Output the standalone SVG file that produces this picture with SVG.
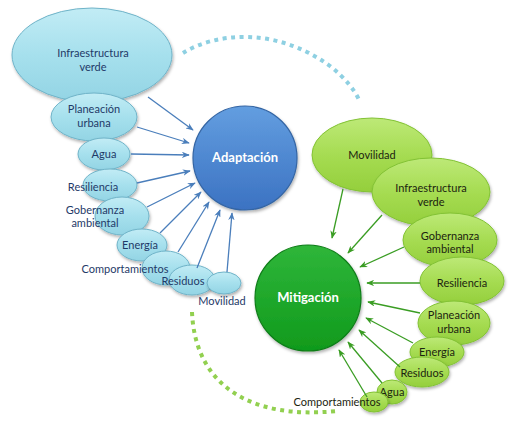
<svg xmlns="http://www.w3.org/2000/svg" width="522" height="429" viewBox="0 0 522 429">
<defs>
<linearGradient id="gb" x1="0" y1="0" x2="0" y2="1"><stop offset="0" stop-color="#c2ecf5"/><stop offset="0.5" stop-color="#a6e0ed"/><stop offset="1" stop-color="#93d4e4"/></linearGradient>
<linearGradient id="gg" x1="0" y1="0" x2="0" y2="1"><stop offset="0" stop-color="#bde977"/><stop offset="0.5" stop-color="#a6dc52"/><stop offset="1" stop-color="#94cf3c"/></linearGradient>
<linearGradient id="gA" x1="0" y1="0" x2="0" y2="1"><stop offset="0" stop-color="#639ee0"/><stop offset="1" stop-color="#3b72c2"/></linearGradient>
<linearGradient id="gM" x1="0" y1="0" x2="0" y2="1"><stop offset="0" stop-color="#2fb63a"/><stop offset="1" stop-color="#109a1c"/></linearGradient>
<filter id="sh" x="-20%" y="-20%" width="140%" height="150%"><feDropShadow dx="1" dy="2" stdDeviation="1.5" flood-color="#000" flood-opacity="0.3"/></filter>
<marker id="ab" viewBox="0 0 10 8" refX="9" refY="4" markerWidth="8" markerHeight="6.4" orient="auto" markerUnits="userSpaceOnUse"><path d="M0,0 L10,4 L0,8 L3,4 z" fill="#4a7ebb"/></marker>
<marker id="ag" viewBox="0 0 10 8" refX="9" refY="4" markerWidth="8" markerHeight="6.4" orient="auto" markerUnits="userSpaceOnUse"><path d="M0,0 L10,4 L0,8 L3,4 z" fill="#3a9d23"/></marker>
</defs>
<style>
.eb{fill:url(#gb);stroke:#6fb3c8;stroke-width:1;filter:url(#sh)}
.eg{fill:url(#gg);stroke:#82c234;stroke-width:1;filter:url(#sh)}
.tb{font-family:Lato,"Liberation Sans",sans-serif;font-size:11px;fill:#1f3a68;text-anchor:middle}
.tg{font-family:Lato,"Liberation Sans",sans-serif;font-size:11px;fill:#1c2410;text-anchor:middle}
.tc{font-family:Lato,"Liberation Sans",sans-serif;font-size:13px;font-weight:bold;fill:#fff;text-anchor:middle}
.cb{stroke:#4a7ebb;stroke-width:1.3;fill:none;marker-end:url(#ab)}
.cg{stroke:#3a9d23;stroke-width:1.3;fill:none;marker-end:url(#ag)}
.db{fill:none;stroke:#8ed0e2;stroke-width:4;stroke-dasharray:4 4.5}
.dg{fill:none;stroke:#92d050;stroke-width:4;stroke-dasharray:4 4.5}
</style>
<rect width="522" height="429" fill="#fff"/>
<g id="arcs">
<path class="db" d="M183,53 C215,33 275,26 330,66 C345,78 355,90 360,102"/>
<path class="dg" d="M192,312 C195,385 250,420 337,411"/>
</g>
<g id="adapt-infra"><ellipse class="eb" cx="92" cy="55" rx="80" ry="47"/><text class="tb" x="93" y="57">Infraestructura</text><text class="tb" x="93" y="71">verde</text></g>
<g id="adapt-planeacion"><ellipse class="eb" cx="94" cy="117" rx="43" ry="24"/><text class="tb" x="94" y="113">Planeación</text><text class="tb" x="94" y="127">urbana</text></g>
<g id="adapt-agua"><ellipse class="eb" cx="104" cy="154" rx="26" ry="16"/><text class="tb" x="104" y="158">Agua</text></g>
<g id="adapt-resiliencia"><ellipse class="eb" cx="110" cy="185" rx="27" ry="16"/><text class="tb" x="93" y="191">Resiliencia</text></g>
<g id="adapt-gobernanza"><ellipse class="eb" cx="122" cy="216" rx="27" ry="19"/><text class="tb" x="95" y="214">Gobernanza</text><text class="tb" x="95" y="227">ambiental</text></g>
<g id="adapt-energia"><ellipse class="eb" cx="142" cy="245" rx="25" ry="16"/><text class="tb" x="140" y="249">Energía</text></g>
<g id="adapt-comportamientos"><ellipse class="eb" cx="166" cy="268" rx="24" ry="17"/><text class="tb" x="125" y="273">Comportamientos</text></g>
<g id="adapt-residuos"><ellipse class="eb" cx="192" cy="280" rx="23" ry="15"/><text class="tb" x="183" y="285">Residuos</text></g>
<g id="adapt-movilidad"><ellipse class="eb" cx="224" cy="283" rx="17" ry="11"/><text class="tb" x="222" y="305">Movilidad</text></g>
<g id="adaptacion"><circle cx="245" cy="158" r="52" fill="url(#gA)" stroke="#3465a4" stroke-width="1.2" filter="url(#sh)"/><text class="tc" x="245" y="162">Adaptación</text></g>
<g id="mit-movilidad"><ellipse class="eg" cx="372" cy="155" rx="60" ry="37"/><text class="tg" x="372" y="159">Movilidad</text></g>
<g id="mit-infra"><ellipse class="eg" cx="431" cy="192" rx="59" ry="34"/><text class="tg" x="431" y="192">Infraestructura</text><text class="tg" x="431" y="206">verde</text></g>
<g id="mit-gobernanza"><ellipse class="eg" cx="450" cy="240" rx="47" ry="27"/><text class="tg" x="450" y="240">Gobernanza</text><text class="tg" x="450" y="253">ambiental</text></g>
<g id="mit-resiliencia"><ellipse class="eg" cx="462" cy="281" rx="42" ry="24"/><text class="tg" x="462" y="287">Resiliencia</text></g>
<g id="mit-planeacion"><ellipse class="eg" cx="454" cy="323" rx="36" ry="22"/><text class="tg" x="454" y="319">Planeación</text><text class="tg" x="454" y="333">urbana</text></g>
<g id="mit-energia"><ellipse class="eg" cx="437" cy="352" rx="27" ry="15"/><text class="tg" x="437" y="356">Energía</text></g>
<g id="mit-residuos"><ellipse class="eg" cx="422" cy="372" rx="27" ry="15"/><text class="tg" x="422" y="377">Residuos</text></g>
<g id="mit-agua"><ellipse class="eg" cx="392" cy="392" rx="15" ry="12"/><text class="tg" x="392" y="396">Agua</text></g>
<g id="mit-comportamientos"><ellipse class="eg" cx="374" cy="402" rx="14" ry="10"/><text class="tg" x="337" y="406">Comportamientos</text></g>
<g id="mitigacion"><circle cx="308" cy="298" r="53" fill="url(#gM)" stroke="#0f7d18" stroke-width="1.2" filter="url(#sh)"/><text class="tc" x="308" y="302">Mitigación</text></g>
<g id="connectors">
<line class="cb" x1="148" y1="97" x2="193" y2="130"/>
<line class="cb" x1="137" y1="127" x2="189" y2="143"/>
<line class="cb" x1="131" y1="154" x2="189" y2="155"/>
<line class="cb" x1="137" y1="183" x2="190" y2="171"/>
<line class="cb" x1="147" y1="207" x2="195" y2="183"/>
<line class="cb" x1="160" y1="233" x2="201" y2="192"/>
<line class="cb" x1="178" y1="252" x2="209" y2="202"/>
<line class="cb" x1="197" y1="268" x2="220" y2="210"/>
<line class="cb" x1="227" y1="272" x2="232" y2="213"/>
<line class="cg" x1="343" y1="189" x2="332" y2="238"/>
<line class="cg" x1="382" y1="215" x2="348" y2="253"/>
<line class="cg" x1="404" y1="247" x2="360" y2="267"/>
<line class="cg" x1="420" y1="283" x2="367" y2="283"/>
<line class="cg" x1="420" y1="313" x2="368" y2="302"/>
<line class="cg" x1="413" y1="343" x2="366" y2="318"/>
<line class="cg" x1="400" y1="367" x2="359" y2="330"/>
<line class="cg" x1="382" y1="383" x2="348" y2="342"/>
<line class="cg" x1="367" y1="397" x2="339" y2="350"/>
</g>
</svg>
